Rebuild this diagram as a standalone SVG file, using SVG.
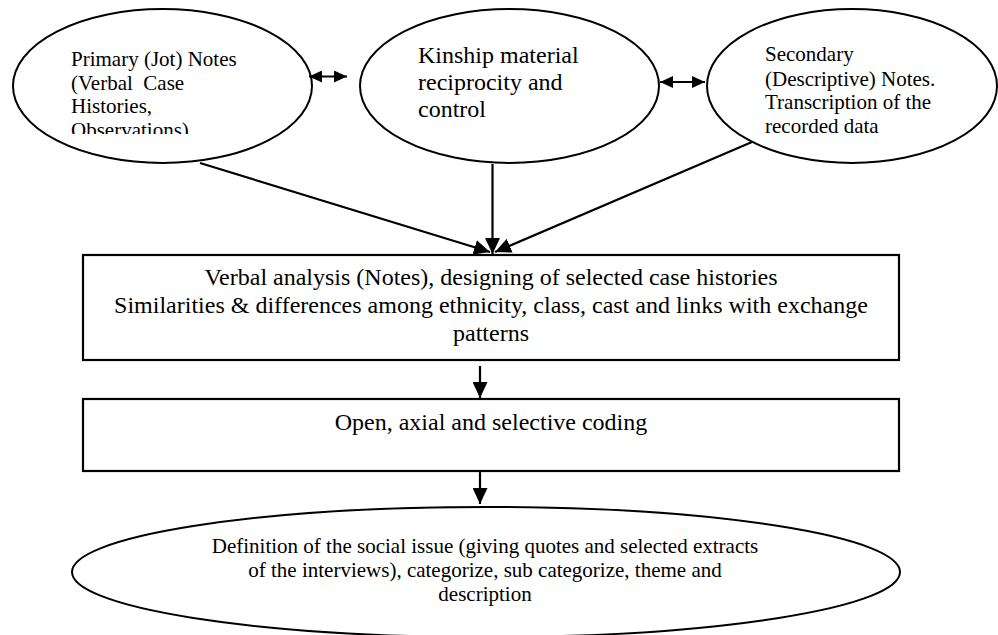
<svg xmlns="http://www.w3.org/2000/svg" width="998" height="635" viewBox="0 0 998 635">
<style>
  .shape { fill: #fff; stroke: #000; stroke-width: 2; }
  .box { fill: #fff; stroke: #000; stroke-width: 2.2; }
  .conn { fill: none; stroke: #000; stroke-width: 2.2; }
  text { font-family: "Liberation Serif", "Times New Roman", serif; fill: #000; }
  .t21 { font-size: 21px; }
  .t24 { font-size: 24px; }
  .mid { text-anchor: middle; }
</style>
<defs>
  <marker id="ah" markerUnits="userSpaceOnUse" markerWidth="16" markerHeight="15" refX="16" refY="7.5" orient="auto">
    <path d="M0,0 L16,7.5 L0,15 z" fill="#000"/>
  </marker>
  <marker id="ahs" markerUnits="userSpaceOnUse" markerWidth="13" markerHeight="12" refX="13" refY="6" orient="auto-start-reverse">
    <path d="M0,0 L13,6 L0,12 z" fill="#000"/>
  </marker>
  <clipPath id="clip1">
    <rect x="0" y="30" width="320" height="104"/>
  </clipPath>
</defs>

<g id="primary-notes">
  <ellipse class="shape" cx="162.5" cy="86" rx="149.5" ry="77"/>
  <g clip-path="url(#clip1)">
    <text class="t21" x="71" y="66">Primary (Jot) Notes</text>
    <text class="t21" x="71" y="89.5" xml:space="preserve">(Verbal  Case</text>
    <text class="t21" x="71" y="113">Histories,</text>
    <text class="t21" x="71" y="136.5">Observations)</text>
  </g>
</g>

<g id="kinship">
  <ellipse class="shape" cx="509.5" cy="86" rx="149.5" ry="77"/>
  <text class="t24" x="418" y="62.5">Kinship material</text>
  <text class="t24" x="418" y="89.5">reciprocity and</text>
  <text class="t24" x="418" y="116.5">control</text>
</g>

<g id="secondary-notes">
  <ellipse class="shape" cx="852" cy="86" rx="145" ry="77"/>
  <text class="t21" x="765" y="61">Secondary</text>
  <text class="t21" x="765" y="86">(Descriptive) Notes.</text>
  <text class="t21" x="765" y="109">Transcription of the</text>
  <text class="t21" x="765" y="133">recorded data</text>
</g>

<g id="verbal-analysis">
  <rect class="box" x="83" y="255" width="816" height="105"/>
  <text class="t24 mid" x="491" y="285">Verbal analysis (Notes), designing of selected case histories</text>
  <text class="t24 mid" x="491" y="313">Similarities &amp; differences among ethnicity, class, cast and links with exchange</text>
  <text class="t24 mid" x="491" y="341">patterns</text>
</g>

<g id="coding">
  <rect class="box" x="83" y="399" width="816" height="72"/>
  <text class="t24 mid" x="491" y="430">Open, axial and selective coding</text>
</g>

<g id="definition">
  <ellipse class="shape" cx="486" cy="572" rx="414" ry="65"/>
  <text class="t21 mid" x="485" y="553">Definition of the social issue (giving quotes and selected extracts</text>
  <text class="t21 mid" x="485" y="577">of the interviews), categorize, sub categorize, theme and</text>
  <text class="t21 mid" x="485" y="601">description</text>
</g>

<g id="connectors">
  <line class="conn" x1="309" y1="76.5" x2="347" y2="76.5" marker-start="url(#ahs)" marker-end="url(#ahs)"/>
  <line class="conn" x1="660" y1="82" x2="705" y2="82" marker-start="url(#ahs)" marker-end="url(#ahs)"/>
  <line class="conn" x1="200" y1="163" x2="490" y2="252" marker-end="url(#ah)"/>
  <line class="conn" x1="492.5" y1="164" x2="492.5" y2="254" marker-end="url(#ah)"/>
  <line class="conn" x1="752" y1="142" x2="495" y2="252" marker-end="url(#ah)"/>
  <line class="conn" x1="480" y1="366" x2="480" y2="398" marker-end="url(#ah)"/>
  <line class="conn" x1="480" y1="472" x2="480" y2="504" marker-end="url(#ah)"/>
</g>
</svg>
